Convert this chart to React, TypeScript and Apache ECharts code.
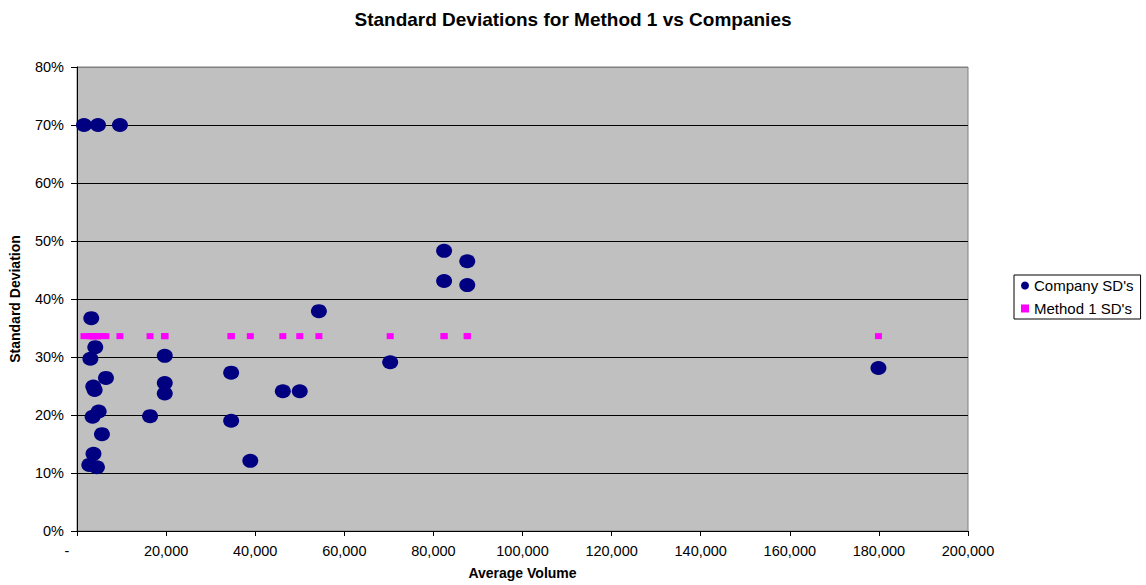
import React, { useEffect, useRef } from "react";
import * as echarts from "echarts";

const titleText = "Standard Deviations for Method 1 vs Companies";
const xAxisName = "Average Volume";
const yAxisName = "Standard Deviation";
const seriesNames = ["Company SD's", "Method 1 SD's"];

const volumes = [
  1570, 4710, 9640, 3200, 4100, 3000, 6500, 3650, 3960, 4860, 3500, 5600, 3700, 2760, 4480,
  19700, 19700, 19700, 16400, 34600, 34600, 38900, 54300, 70300, 46200, 50000,
  82400, 87600, 82400, 87600, 179900,
];
const companySD = [
  0.70, 0.70, 0.70, 0.367, 0.317, 0.297, 0.264, 0.249, 0.243, 0.206, 0.197, 0.167, 0.133, 0.114, 0.110,
  0.302, 0.255, 0.237, 0.198, 0.273, 0.190, 0.121, 0.379, 0.291, 0.241, 0.241,
  0.483, 0.465, 0.431, 0.424, 0.281,
];
const method1SD = [
  0.336, 0.336, 0.336, 0.336, 0.336, 0.336, 0.336, 0.336, 0.336, 0.336, 0.336, 0.336, 0.336, 0.336, 0.336,
  0.336, 0.336, 0.336, 0.336, 0.336, 0.336, 0.336, 0.336, 0.336, 0.336, 0.336,
  0.336, 0.336, 0.336, 0.336, 0.336,
];

const FONT = "'Liberation Sans', Arial, sans-serif";

export default function App() {
  const ref = useRef<HTMLDivElement>(null);
  useEffect(() => {
    if (!ref.current) return;
    const chart = echarts.init(ref.current, null, { renderer: "svg" });
    const companyData = volumes.map((v, i) => [v, companySD[i]]);
    const methodData = volumes.map((v, i) => [v, method1SD[i]]);
    chart.setOption({
      animation: false,
      backgroundColor: "#ffffff",
      textStyle: { fontFamily: FONT },
      title: {
        text: titleText,
        left: "center",
        top: 5,
        textStyle: { fontFamily: FONT, fontSize: 19, fontWeight: "bold", color: "#000" },
      },
      legend: {
        orient: "vertical",
        left: 1014,
        top: 275,
        borderColor: "#000",
        borderWidth: 1,
        padding: [3, 7, 3, 7],
        itemGap: 8,
        itemWidth: 8,
        itemHeight: 8,
        textStyle: { fontFamily: FONT, fontSize: 15, color: "#000" },
        data: [
          { name: seriesNames[0], icon: "circle" },
          { name: seriesNames[1], icon: "rect" },
        ],
      },
      grid: {
        left: 76,
        top: 67,
        width: 892,
        height: 464,
        show: true,
        backgroundColor: "#C0C0C0",
        borderColor: "#808080",
        borderWidth: 1,
      },
      xAxis: {
        type: "value",
        min: 0,
        max: 200000,
        interval: 20000,
        name: xAxisName,
        nameLocation: "middle",
        nameGap: 35,
        nameTextStyle: { fontFamily: FONT, fontSize: 14, fontWeight: "bold", color: "#000" },
        axisLine: { show: true, lineStyle: { color: "#000", width: 1 } },
        axisTick: { show: true, inside: false, length: 5, lineStyle: { color: "#000" } },
        axisLabel: {
          fontFamily: FONT,
          fontSize: 14.5,
          color: "#000",
          margin: 12,
          formatter: (v: number) =>
            v === 0 ? "-\u00a0\u00a0\u00a0\u00a0\u00a0" : v.toLocaleString("en-US"),
        },
        splitLine: { show: false },
      },
      yAxis: {
        type: "value",
        min: 0,
        max: 0.8,
        interval: 0.1,
        name: yAxisName,
        nameLocation: "middle",
        nameGap: 55,
        nameRotate: 90,
        nameTextStyle: { fontFamily: FONT, fontSize: 14, fontWeight: "bold", color: "#000" },
        axisLine: { show: true, lineStyle: { color: "#000", width: 1 } },
        axisTick: { show: true, inside: false, length: 6, lineStyle: { color: "#000" } },
        axisLabel: {
          fontFamily: FONT,
          fontSize: 14.5,
          color: "#000",
          margin: 13,
          formatter: (v: number) => Math.round(v * 100) + "%",
        },
        splitLine: {
          show: true,
          lineStyle: {
            color: ["#000", "#000", "#000", "#000", "#000", "#000", "#000", "#000", "#808080"],
            width: 1,
          },
        },
      },
      series: [
        {
          name: seriesNames[0],
          type: "scatter",
          data: companyData,
          symbol: "circle",
          symbolSize: [16, 14],
          itemStyle: { color: "#000080", opacity: 1 },
        },
        {
          name: seriesNames[1],
          type: "scatter",
          data: methodData,
          symbol: "rect",
          symbolSize: [7, 6],
          itemStyle: { color: "#FF00FF", opacity: 1 },
        },
      ],
    });
    return () => chart.dispose();
  }, []);
  return (
    <div
      ref={ref}
      style={{ position: "absolute", left: 0, top: 0, width: 1146, height: 585 }}
    />
  );
}
